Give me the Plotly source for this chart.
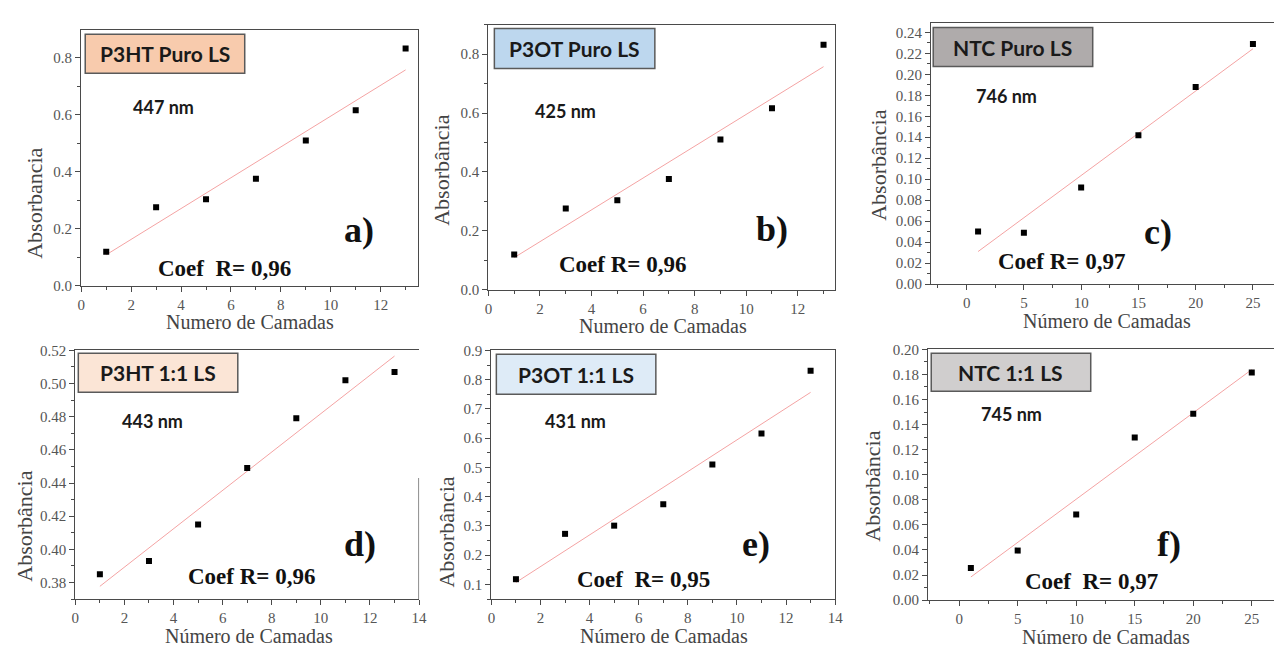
import numpy as np
import plotly.graph_objects as go

W, H = 1282, 651

# ---- data: absorbance vs. number of LS layers ----
camadas_p = [1, 3, 5, 7, 9, 11, 13]
camadas_ntc = [1, 5, 10, 15, 20, 25]

abs_p3ht_puro = [0.120, 0.276, 0.304, 0.376, 0.510, 0.616, 0.833]
abs_p3ot_puro = [0.120, 0.276, 0.304, 0.376, 0.510, 0.616, 0.832]
abs_ntc_puro = [0.050, 0.049, 0.092, 0.142, 0.188, 0.229]
abs_p3ht_11 = [0.385, 0.393, 0.415, 0.449, 0.479, 0.502, 0.507]
abs_p3ot_11 = [0.118, 0.273, 0.301, 0.374, 0.510, 0.616, 0.830]
abs_ntc_11 = [0.0255, 0.0395, 0.0683, 0.1297, 0.1486, 0.1816]

box_labels = ["P3HT Puro LS", "P3OT Puro LS", "NTC Puro LS",
              "P3HT 1:1 LS", "P3OT 1:1 LS", "NTC 1:1 LS"]
wavelengths = ["447 nm", "425 nm", "746 nm", "443 nm", "431 nm", "745 nm"]
coef_labels = ["Coef  R= 0,96", "Coef R= 0,96", "Coef R= 0,97",
               "Coef R= 0,96", "Coef  R= 0,95", "Coef  R= 0,97"]
panel_letters = ["a)", "b)", "c)", "d)", "e)", "f)"]
x_titles = ["Numero de Camadas", "Numero de Camadas", "Número de Camadas",
            "Número de Camadas", "Número de Camadas", "Número de Camadas"]
y_titles = ["Absorbancia", "Absorbância", "Absorbância",
            "Absorbância", "Absorbância", "Absorbância"]

box_colors = ["#F8CBAD", "#BDD7EE", "#AFABAB", "#FBE5D6", "#DEEBF7", "#D0CECE"]

panels = [
    dict(x=camadas_p, y=abs_p3ht_puro, xr=[0, 13.5], yr=[0, 0.896], xd=2, xm=1, yd=0.2, ym=0.1, yf=".1f",
         dom=(78, 418, 23, 285), ymirror=True),
    dict(x=camadas_p, y=abs_p3ot_puro, xr=[0, 13.45], yr=[0, 0.9], xd=2, xm=1, yd=0.2, ym=0.1, yf=".1f",
         dom=(489, 839, 17, 289), ymirror=True),
    dict(x=camadas_ntc, y=abs_ntc_puro, xr=[-3.09, 26.84], yr=[0, 0.2493], xd=5, xm=2.5, yd=0.02, ym=0.01, yf=".2f",
         dom=(936, 1282, 15, 283), ymirror=False),
    dict(x=camadas_p, y=abs_p3ht_11, xr=[0, 14], yr=[0.370, 0.520], xd=2, xm=1, yd=0.02, ym=0.01, yf=".2f",
         dom=(72, 419, 351, 606), ymirror=False),
    dict(x=camadas_p, y=abs_p3ot_11, xr=[0, 14], yr=[0.05, 0.9], xd=2, xm=1, yd=0.1, ym=0.05, yf=".1f",
         dom=(492, 839, 351, 606), ymirror=True),
    dict(x=camadas_ntc, y=abs_ntc_11, xr=[-2.64, 26.9], yr=[0, 0.2], xd=5, xm=2.5, yd=0.02, ym=0.01, yf=".2f",
         dom=(933, 1282, 350, 607), ymirror=False),
]

# text anchor points (pixels): box rect, wavelength, letter, coef, x-title, y-title
text_pos = [
    dict(box=(82, 27, 243, 67), nm=(161, 101), let=(358, 228), coef=(223, 267), xt=(248, 322), yt=(30, 200)),
    dict(box=(495, 21, 657, 62), nm=(567, 106), let=(775, 227), coef=(624, 263), xt=(665, 326), yt=(442, 166)),
    dict(box=(938, 20, 1099, 60), nm=(1012, 90), let=(1165, 230), coef=(1067, 260), xt=(1113, 321), yt=(882, 161)),
    dict(box=(75, 354, 236, 394), nm=(150, 423), let=(359, 550), coef=(250, 583), xt=(247, 644), yt=(21, 531)),
    dict(box=(497, 355, 658, 396), nm=(577, 423), let=(759, 550), coef=(646, 586), xt=(666, 644), yt=(447, 537)),
    dict(box=(936, 354, 1097, 393), nm=(1017, 416), let=(1176, 550), coef=(1098, 588), xt=(1112, 645), yt=(877, 490)),
]


def px(v):
    return v / W


def py(v):
    return 1 - v / H


SERIF = "Liberation Serif"
SANS = "Lato"
AXIS_COLOR = "#4a4a4a"
TICK_FONT = dict(family=SERIF, size=15, color="#555555")

fig = go.Figure()
layout = dict(
    width=W, height=H, margin=dict(l=0, r=0, t=0, b=0),
    paper_bgcolor="white", plot_bgcolor="white", showlegend=False,
)
shapes = []
annotations = []

for i, p in enumerate(panels):
    n = i + 1
    xa = "x" if n == 1 else f"x{n}"
    ya = "y" if n == 1 else f"y{n}"
    xkey = "xaxis" if n == 1 else f"xaxis{n}"
    ykey = "yaxis" if n == 1 else f"yaxis{n}"
    l, r, t, b = p["dom"]

    # linear fit over the measured points
    slope, icpt = np.polyfit(p["x"], p["y"], 1)
    fx = [min(p["x"]), max(p["x"])]
    fy = [slope * v + icpt for v in fx]
    fig.add_trace(go.Scatter(x=fx, y=fy, mode="lines", xaxis=xa, yaxis=ya,
                             line=dict(color="#F4A3A3", width=1), hoverinfo="skip"))
    fig.add_trace(go.Scatter(x=p["x"], y=p["y"], mode="markers", xaxis=xa, yaxis=ya,
                             marker=dict(symbol="square", size=6, color="black")))

    layout[xkey] = dict(
        domain=[px(l), px(r)], range=p["xr"], anchor=ya, dtick=p["xd"], tick0=0,
        showgrid=False, zeroline=False, showline=True, linecolor=AXIS_COLOR, linewidth=1.3,
        mirror=True, ticks="outside", ticklen=5, tickcolor=AXIS_COLOR, tickwidth=1,
        minor=dict(ticks="outside", ticklen=3, dtick=p["xm"], tick0=0, tickcolor=AXIS_COLOR),
        tickfont=TICK_FONT,
    )
    layout[ykey] = dict(
        domain=[py(b), py(t)], range=p["yr"], anchor=xa, dtick=p["yd"], tick0=0,
        tickformat=p["yf"],
        showgrid=False, zeroline=False, showline=True, linecolor=AXIS_COLOR, linewidth=1.3,
        mirror=p["ymirror"], ticks="outside", ticklen=5, tickcolor=AXIS_COLOR, tickwidth=1,
        minor=dict(ticks="outside", ticklen=3, dtick=p["ym"], tick0=0, tickcolor=AXIS_COLOR),
        tickfont=TICK_FONT,
    )

    tp = text_pos[i]
    x0, y0, x1, y1 = tp["box"]
    shapes.append(dict(type="rect", xref="paper", yref="paper",
                       x0=px(x0), x1=px(x1), y0=py(y1), y1=py(y0),
                       fillcolor=box_colors[i], line=dict(color="#5a5a5a", width=1.5)))
    annotations.append(dict(xref="paper", yref="paper", x=px((x0 + x1) / 2), y=py((y0 + y1) / 2),
                            text=f"<b>{box_labels[i]}</b>", showarrow=False,
                            xanchor="center", yanchor="middle",
                            font=dict(family=SANS, size=21, color="#1a1a1a")))
    annotations.append(dict(xref="paper", yref="paper", x=px(tp["nm"][0]), y=py(tp["nm"][1]),
                            text=f"<b>{wavelengths[i]}</b>", showarrow=False,
                            xanchor="center", yanchor="middle",
                            font=dict(family=SANS, size=18, color="#1a1a1a")))
    annotations.append(dict(xref="paper", yref="paper", x=px(tp["let"][0]), y=py(tp["let"][1]),
                            text=f"<b>{panel_letters[i]}</b>", showarrow=False,
                            xanchor="center", yanchor="middle",
                            font=dict(family=SERIF, size=36, color="#111111")))
    annotations.append(dict(xref="paper", yref="paper", x=px(tp["coef"][0]), y=py(tp["coef"][1]),
                            text=f"<b>{coef_labels[i]}</b>", showarrow=False,
                            xanchor="center", yanchor="middle",
                            font=dict(family=SERIF, size=23, color="#111111")))
    annotations.append(dict(xref="paper", yref="paper", x=px(tp["xt"][0]), y=py(tp["xt"][1]),
                            text=x_titles[i], showarrow=False,
                            xanchor="center", yanchor="middle",
                            font=dict(family=SERIF, size=20, color="#444444")))
    annotations.append(dict(xref="paper", yref="paper", x=px(tp["yt"][0]), y=py(tp["yt"][1]),
                            text=y_titles[i], showarrow=False, textangle=-90,
                            xanchor="center", yanchor="middle",
                            font=dict(family=SERIF, size=22, color="#444444")))

# right-hand frame of panel d only runs along its lower part
shapes.append(dict(type="line", xref="x4", yref="y4", x0=14, x1=14, y0=0.370, y1=0.443,
                   line=dict(color=AXIS_COLOR, width=1.3)))

layout["shapes"] = shapes
layout["annotations"] = annotations
fig.update_layout(**layout)
fig.write_html("out.html")
